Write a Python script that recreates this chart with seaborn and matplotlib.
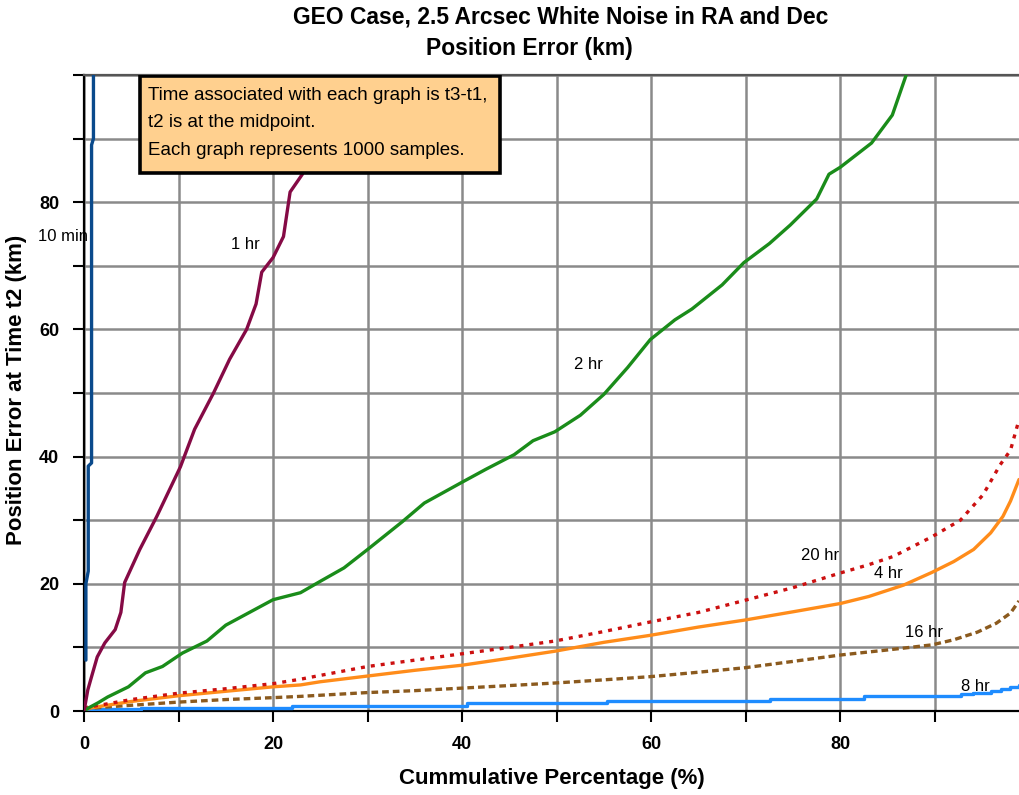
import matplotlib
matplotlib.use("Agg")
import matplotlib.pyplot as plt
from matplotlib.patches import Rectangle
import numpy as np
import pandas as pd
import seaborn as sns

# Cumulative-percentage curves of position error (km) for each t3-t1 span
ten_min_x = [0.2, 0.2, 0.45, 0.45, 0.8, 0.8, 1.0, 1.0]
ten_min_y = [8, 20, 22, 38.5, 39, 89, 90, 101]

one_hr_x = [0, 0.1, 0.4, 0.8, 1.4, 2.2, 3.3, 3.9, 4.3, 5.9, 7.7, 10.2, 11.7, 13.7,
            15.4, 17.2, 18.2, 18.8, 20.0, 21.1, 21.8, 23.1, 24.5, 26.5]
one_hr_y = [0, 0.8, 3.3, 5.4, 8.5, 10.7, 12.8, 15.5, 20.2, 25.4, 30.6, 38.4, 44.3, 50,
            55.3, 60, 64, 69, 71.3, 74.6, 81.6, 84.4, 92, 101]

two_hr_x = [0, 0.5, 1.5, 2.5, 4.7, 6.5, 8.3, 10.4, 13, 15, 17.5, 20, 22.9, 25, 27.5, 30,
            33.7, 36, 39.9, 42.5, 45.5, 47.5, 49.8, 52.5, 55, 57.5, 59.9, 62.5, 64.3,
            67.5, 69.8, 72.5, 74.7, 77.5, 78.8, 80, 83.3, 85.5, 87.2]
two_hr_y = [0, 0.5, 1.3, 2.2, 3.8, 6, 7, 9.1, 11, 13.5, 15.5, 17.5, 18.6, 20.4, 22.5, 25.4,
            29.8, 32.7, 35.9, 38, 40.3, 42.5, 43.9, 46.5, 49.8, 54, 58.4, 61.5, 63.2,
            67, 70.5, 73.5, 76.4, 80.5, 84.4, 85.5, 89.3, 93.7, 101]

four_hr_x = [0, 2, 5, 10, 15, 20, 22.9, 25, 30, 35, 40, 45, 49.8, 55, 59.9, 65, 69.9,
             75, 80, 83, 86.7, 89.7, 92, 94.1, 95.9, 97.2, 98, 98.9]
four_hr_y = [0.3, 0.8, 1.5, 2.4, 3.1, 3.8, 4.1, 4.6, 5.5, 6.4, 7.2, 8.3, 9.4, 10.8, 11.9,
             13.2, 14.3, 15.6, 16.9, 18, 19.8, 21.8, 23.5, 25.4, 28, 30.6, 33, 36.4]

eight_hr_x = [0, 6, 22, 40.5, 55.3, 72.6, 82.5, 92.8, 94, 95.9, 97, 98, 98.9]
eight_hr_y = [0.3, 0.5, 0.8, 1.2, 1.6, 1.9, 2.3, 2.7, 2.9, 3.2, 3.5, 3.8, 4.1]

sixteen_hr_x = [0, 2, 5, 10, 15, 20, 22.9, 30, 35, 40, 45, 49.8, 55, 59.9, 65, 69.9, 75,
                80, 85, 89.7, 92, 94.5, 96.5, 98, 98.9]
sixteen_hr_y = [0.3, 0.6, 0.9, 1.4, 1.8, 2.1, 2.3, 2.9, 3.2, 3.6, 4, 4.4, 4.9, 5.4, 6.1,
                6.8, 7.8, 8.8, 9.6, 10.4, 11.2, 12.4, 13.8, 15.4, 17.3]

twenty_hr_x = [0, 2, 5, 10, 15, 20, 22.9, 25, 30, 35, 40, 45, 49.8, 55, 59.9, 65, 69.9,
               75, 80, 83, 85.6, 89.7, 92.7, 95.1, 96.9, 98, 98.9]
twenty_hr_y = [0.5, 1, 1.8, 2.8, 3.5, 4.3, 5, 5.6, 7, 8, 9, 10, 11, 12.5, 14, 15.5, 17.4,
               19.4, 21.7, 23, 24.3, 27.4, 30, 34, 38.7, 41, 45.8]

x_ticks = [0, 10, 20, 30, 40, 50, 60, 70, 80, 90]
x_tick_labels = ["0", "", "20", "", "40", "", "60", "", "80", ""]
y_ticks = [0, 10, 20, 30, 40, 50, 60, 70, 80, 90, 100]
y_tick_labels = ["0", "", "20", "", "40", "", "60", "", "80", "", ""]

# name, x, y, colour, linestyle, drawstyle, label position
series = [
    ("8 hr", eight_hr_x, eight_hr_y, "#1E8CFF", "-", "steps-post", (94.3, 3.9)),
    ("16 hr", sixteen_hr_x, sixteen_hr_y, "#8B5A1E", (0, (2.0, 1.2)), "default", (88.9, 12.3)),
    ("4 hr", four_hr_x, four_hr_y, "#FF8C1A", "-", "default", (85.1, 21.6)),
    ("20 hr", twenty_hr_x, twenty_hr_y, "#CC1010", (0, (1.2, 1.8)), "default", (77.9, 24.4)),
    ("2 hr", two_hr_x, two_hr_y, "#1A8C1A", "-", "default", (53.4, 54.5)),
    ("1 hr", one_hr_x, one_hr_y, "#850A45", "-", "default", (17.1, 73.4)),
    ("10 min", ten_min_x, ten_min_y, "#0A4A8C", "-", "default", (-2.2, 74.6)),
]

sns.set_style("white")
plt.rcParams["font.family"] = ["Liberation Sans", "DejaVu Sans"]
plt.rcParams["text.color"] = "black"
plt.rcParams["axes.labelcolor"] = "black"
plt.rcParams["xtick.color"] = "black"
plt.rcParams["ytick.color"] = "black"

fig = plt.figure(figsize=(10.19, 7.95), dpi=100)
ax = fig.add_axes([84 / 1019, 84 / 795, 1 - 84 / 1019, (711 - 75) / 795])

for name, xs, ys, col, ls, ds, _ in series:
    df = pd.DataFrame({"pct": xs, "err": ys})
    sns.lineplot(data=df, x="pct", y="err", ax=ax, color=col, linestyle=ls,
                 drawstyle=ds, linewidth=2.4, sort=False, estimator=None,
                 zorder=3)

for name, xs, ys, col, ls, ds, (lx, ly) in series:
    ax.text(lx, ly, name, fontsize=12, ha="center", va="center", color="black",
            zorder=2, clip_on=False)

ax.set_xlim(0, 98.9)
ax.set_ylim(0, 100)
ax.set_xticks(x_ticks)
ax.set_xticklabels(x_tick_labels)
ax.set_yticks(y_ticks)
ax.set_yticklabels(y_tick_labels)
ax.tick_params(axis="both", direction="out", length=8, width=1.5, colors="black",
               labelsize=13, pad=10, bottom=True, left=True)
for lab in ax.get_xticklabels() + ax.get_yticklabels():
    lab.set_fontweight("bold")

ax.grid(True, color="#8a8a8a", linewidth=1.8, zorder=0)
ax.set_axisbelow(True)
for side in ("left", "bottom"):
    ax.spines[side].set_color("black")
    ax.spines[side].set_linewidth(1.6)
ax.spines["top"].set_color("#555555")
ax.spines["top"].set_linewidth(1.6)
ax.spines["right"].set_visible(False)

ax.set_xlabel("Cummulative Percentage (%)", fontsize=16, fontweight="bold")
ax.set_ylabel("Position Error at Time t2 (km)", fontsize=16, fontweight="bold")
ax.xaxis.set_label_coords((552 - 84) / 935, (711 - 768) / 636)
ax.yaxis.set_label_coords((27 - 84) / 935, (711 - 390) / 636)

# annotation box
ax.add_patch(Rectangle((5.9, 84.6), 38.1, 15.2, facecolor="#FFD08F", edgecolor="black",
                       linewidth=2.6, zorder=5))
box_lines = ["Time associated with each graph is t3-t1,",
             "t2 is at the midpoint.",
             "Each graph represents 1000 samples."]
for txt, yy in zip(box_lines, [96.7, 92.6, 88.2]):
    ax.text(6.8, yy, txt, fontsize=13.5, ha="left", va="center", zorder=6)

fig.text(561 / 1019, 1 - 17 / 795, "GEO Case, 2.5 Arcsec White Noise in RA and Dec",
         ha="center", va="center", fontsize=16.5, fontweight="bold")
fig.text(529 / 1019, 1 - 48 / 795, "Position Error (km)",
         ha="center", va="center", fontsize=16.5, fontweight="bold")

fig.savefig("out.png", dpi=100)
